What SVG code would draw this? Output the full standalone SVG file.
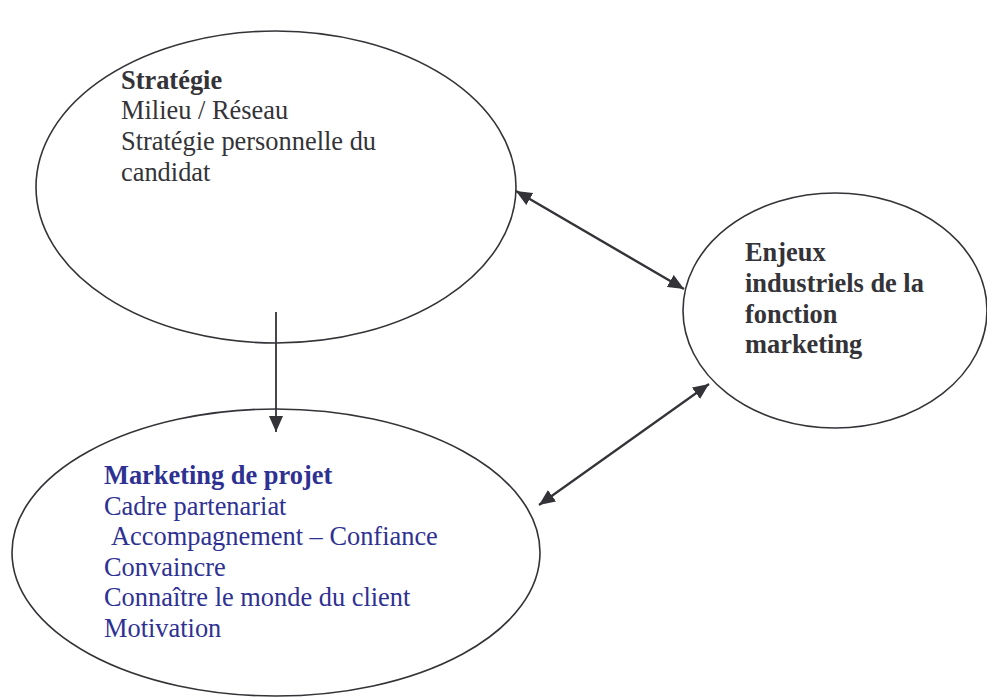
<svg xmlns="http://www.w3.org/2000/svg" width="987" height="698" viewBox="0 0 987 698">
<style>
.node{fill:#fff;stroke:#333338;stroke-width:1.6}
.t{font-family:"Liberation Serif","Times New Roman",serif;font-size:26.4px;fill:#333338}
.b{font-weight:bold}
.blue{fill:#2e3192}
.c{stroke:#333338;fill:none}
</style>
<defs>
<marker id="ah" viewBox="0 0 16 14" refX="16" refY="7" markerWidth="16" markerHeight="14" markerUnits="userSpaceOnUse" orient="auto-start-reverse">
<path d="M0,0 L16,7 L0,14 Z" fill="#333338"/>
</marker>
</defs>
<rect width="987" height="698" fill="#fff"/>
<g id="strategie">
<ellipse class="node" cx="276" cy="187" rx="240" ry="156"/>
<text class="t b" x="121" y="89">Stratégie</text>
<text class="t" x="121" y="119">Milieu / Réseau</text>
<text class="t" x="121" y="150">Stratégie personnelle du</text>
<text class="t" x="121" y="180.5">candidat</text>
</g>
<g id="enjeux">
<ellipse class="node" cx="835" cy="310.5" rx="152" ry="117.5"/>
<text class="t b" x="745" y="261">Enjeux</text>
<text class="t b" x="745" y="292">industriels de la</text>
<text class="t b" x="745" y="323">fonction</text>
<text class="t b" x="745" y="353">marketing</text>
</g>
<g id="marketing">
<ellipse class="node" cx="276" cy="552.5" rx="264" ry="143.5"/>
<text class="t b blue" x="104" y="484">Marketing de projet</text>
<text class="t blue" x="104" y="514.5">Cadre partenariat</text>
<text class="t blue" x="111" y="545">Accompagnement – Confiance</text>
<text class="t blue" x="104" y="575.5">Convaincre</text>
<text class="t blue" x="104" y="606">Connaître le monde du client</text>
<text class="t blue" x="104" y="636.5">Motivation</text>
</g>
<g id="connectors">
<line class="c" x1="276" y1="312" x2="276" y2="432" stroke-width="1.8" marker-end="url(#ah)"/>
<line class="c" x1="516" y1="191" x2="684" y2="289" stroke-width="2.4" marker-start="url(#ah)" marker-end="url(#ah)"/>
<line class="c" x1="539" y1="505" x2="709" y2="384" stroke-width="2.2" marker-start="url(#ah)" marker-end="url(#ah)"/>
</g>
</svg>
